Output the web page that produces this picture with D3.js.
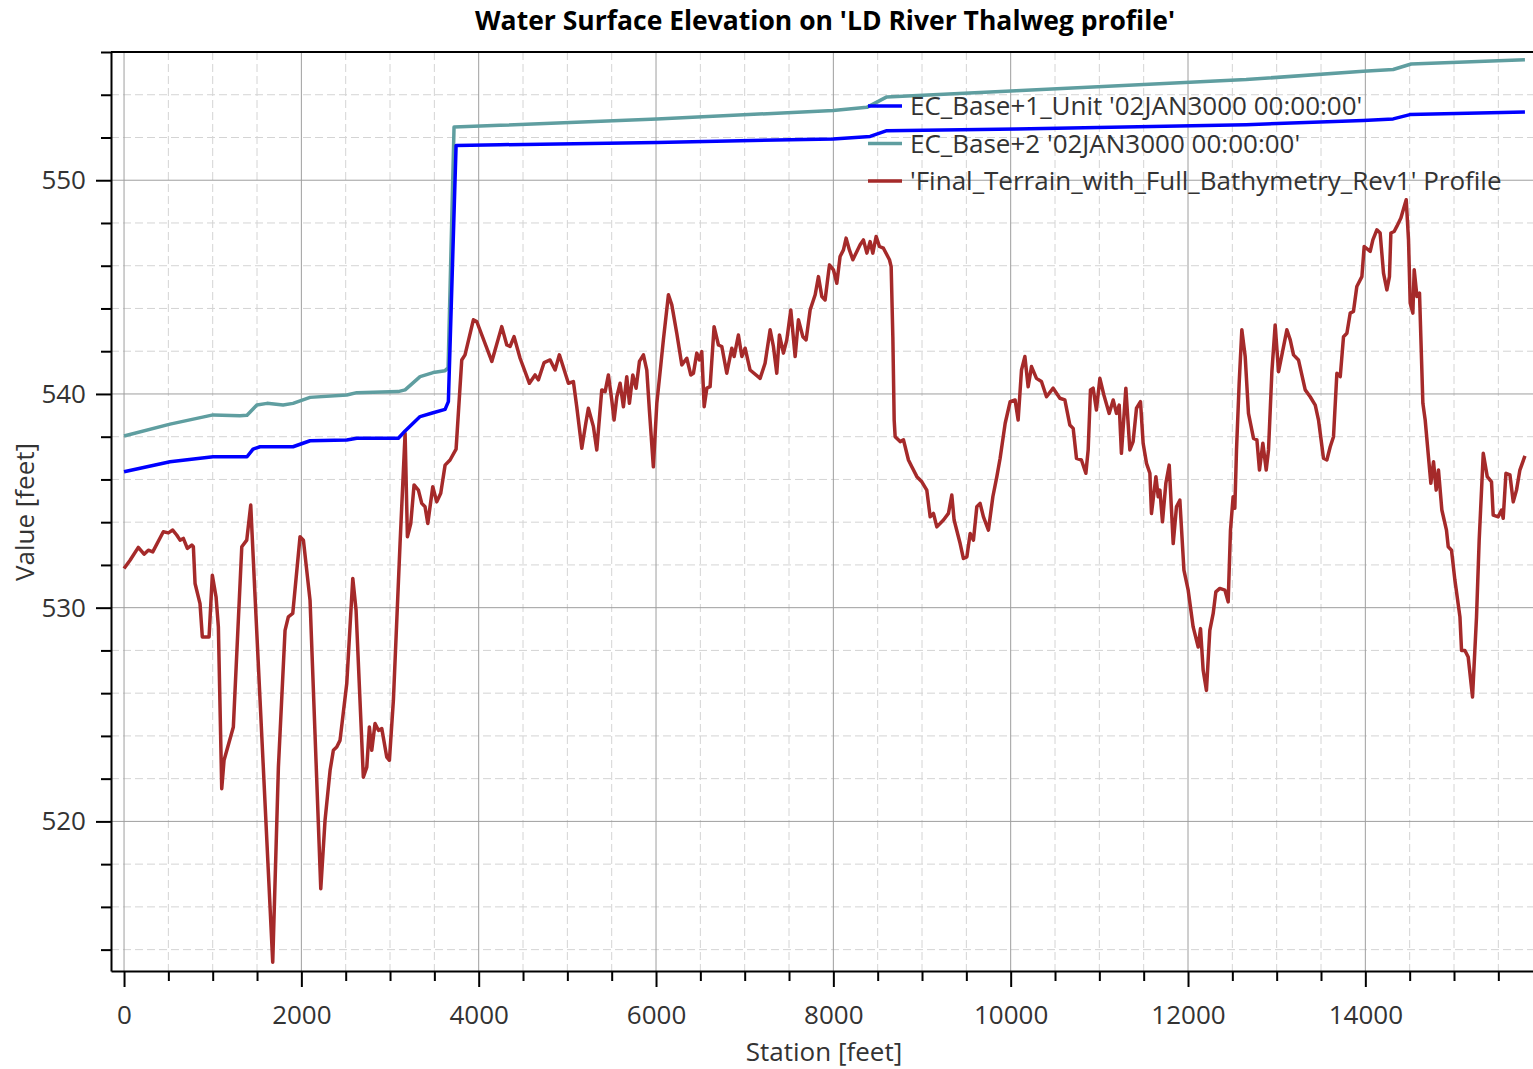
<!DOCTYPE html>
<html>
<head>
<meta charset="utf-8">
<script src="https://cdn.jsdelivr.net/npm/d3@7"></script>
<style>
  body { margin: 0; background: #fff; }
  text { font-family: "Open Sans", "Noto Sans", sans-serif; }
</style>
</head>
<body>
<div id="chart"></div>
<script>
const chartTitle = "Water Surface Elevation on 'LD River Thalweg profile'";
const xTitle = "Station [feet]";
const yTitle = "Value [feet]";

const seriesNames = [
  "EC_Base+1_Unit '02JAN3000 00:00:00'",
  "EC_Base+2 '02JAN3000 00:00:00'",
  "'Final_Terrain_with_Full_Bathymetry_Rev1' Profile"
];
const seriesColors = ["#0000ff", "#5f9ea0", "#a52a2a"];

const xTicks = [0, 2000, 4000, 6000, 8000, 10000, 12000, 14000];
const yTicks = [520, 530, 540, 550];
const xMinorStep = 500;
const yMinorStep = 2;

// [station, elevation]
const base1 = [
  [0, 536.36], [519, 536.83], [1004, 537.06], [1387, 537.06], [1455, 537.42],
  [1534, 537.53], [1906, 537.53], [2098, 537.81], [2512, 537.85], [2625, 537.93],
  [3094, 537.93], [3170, 538.27], [3339, 538.94], [3486, 539.12], [3621, 539.28],
  [3658, 539.64], [3745, 551.62], [4241, 551.66], [6009, 551.77], [7998, 551.93],
  [8415, 552.05], [8603, 552.32], [10070, 552.40], [12656, 552.60], [13976, 552.80],
  [14314, 552.87], [14503, 553.07], [15800, 553.19]
];

const base2 = [
  [0, 538.03], [519, 538.59], [1004, 539.02], [1308, 538.98], [1387, 539.0],
  [1498, 539.48], [1613, 539.56], [1794, 539.48], [1906, 539.56], [2098, 539.84],
  [2512, 539.95], [2625, 540.06], [3091, 540.11], [3170, 540.19], [3339, 540.81],
  [3486, 541.0], [3621, 541.09], [3655, 541.22], [3722, 552.49], [4241, 552.57],
  [6009, 552.87], [7998, 553.26], [8378, 553.41], [8603, 553.90], [10060, 554.19],
  [12656, 554.71], [13976, 555.10], [14314, 555.18], [14517, 555.44], [15800, 555.64]
];

const terrain = [
  [0, 531.83], [68, 532.22], [161, 532.82], [226, 532.50], [274, 532.69], [324, 532.61],
  [443, 533.55], [500, 533.50], [549, 533.63], [594, 533.40], [632, 533.16], [669, 533.24],
  [714, 532.77], [764, 532.93], [782, 532.85], [801, 531.13], [857, 530.19], [883, 528.63],
  [959, 528.63], [996, 531.52], [1038, 530.50], [1064, 529.10], [1102, 521.53], [1128, 522.86],
  [1233, 524.42], [1328, 532.85], [1384, 533.16], [1429, 534.80], [1478, 530.50], [1677, 513.41],
  [1741, 522.54], [1816, 528.94], [1853, 529.57], [1903, 529.73], [1985, 533.32], [2023, 533.16],
  [2098, 530.34], [2219, 516.85], [2267, 520.05], [2324, 522.39], [2361, 523.33], [2399, 523.48],
  [2436, 523.79], [2512, 526.45], [2580, 531.37], [2617, 529.88], [2699, 522.07], [2738, 522.54],
  [2767, 524.42], [2794, 523.33], [2831, 524.58], [2869, 524.26], [2907, 524.34], [2963, 523.01],
  [2993, 522.86], [3038, 525.67], [3113, 533.0], [3170, 538.16], [3196, 533.32], [3234, 533.94],
  [3271, 535.74], [3320, 535.50], [3358, 534.88], [3395, 534.72], [3426, 533.94], [3482, 535.66],
  [3527, 534.95], [3572, 535.35], [3621, 536.67], [3677, 536.91], [3745, 537.42], [3809, 541.59],
  [3846, 541.83], [3940, 543.47], [3978, 543.39], [4148, 541.52], [4260, 543.15], [4317, 542.29],
  [4354, 542.22], [4399, 542.68], [4467, 541.67], [4572, 540.50], [4636, 540.89], [4673, 540.66],
  [4738, 541.47], [4805, 541.59], [4862, 541.12], [4910, 541.83], [5012, 540.50], [5068, 540.58],
  [5106, 539.40], [5163, 537.46], [5208, 538.63], [5237, 539.33], [5294, 538.47], [5332, 537.38],
  [5388, 540.19], [5426, 540.11], [5463, 540.89], [5501, 539.72], [5527, 538.78], [5558, 539.87],
  [5595, 540.50], [5632, 539.40], [5670, 540.81], [5700, 539.56], [5738, 540.89], [5775, 540.27],
  [5813, 541.52], [5858, 541.83], [5896, 541.12], [5925, 539.25], [5970, 536.59], [6009, 539.56],
  [6054, 541.35], [6083, 542.53], [6140, 544.64], [6178, 544.17], [6234, 542.84], [6291, 541.36],
  [6347, 541.67], [6392, 540.89], [6422, 540.97], [6460, 541.91], [6489, 541.59], [6516, 541.98],
  [6543, 539.40], [6573, 540.27], [6610, 540.34], [6655, 543.15], [6704, 542.29], [6742, 542.22],
  [6798, 540.97], [6855, 542.14], [6881, 541.75], [6929, 542.76], [6968, 541.75], [7005, 542.14],
  [7061, 541.12], [7174, 540.73], [7230, 541.44], [7287, 543.00], [7324, 542.22], [7362, 540.97],
  [7392, 542.76], [7437, 541.91], [7475, 542.53], [7520, 543.93], [7569, 541.75], [7606, 543.47],
  [7656, 542.68], [7693, 542.53], [7738, 543.93], [7795, 544.64], [7832, 545.49], [7870, 544.56],
  [7907, 544.40], [7956, 546.04], [8001, 545.81], [8039, 545.18], [8076, 546.43], [8114, 546.74],
  [8144, 547.29], [8181, 546.74], [8220, 546.28], [8265, 546.67], [8302, 546.98], [8339, 547.21],
  [8378, 546.59], [8415, 547.13], [8445, 546.59], [8483, 547.37], [8520, 546.90], [8565, 546.82],
  [8633, 546.28], [8652, 545.96], [8671, 542.68], [8686, 538.78], [8697, 538.0], [8753, 537.77],
  [8791, 537.85], [8847, 536.91], [8885, 536.59], [8942, 536.13], [8998, 535.89], [9054, 535.50],
  [9092, 534.25], [9129, 534.41], [9167, 533.78], [9242, 534.10], [9298, 534.41], [9336, 535.27],
  [9362, 534.10], [9430, 533.0], [9467, 532.30], [9506, 532.38], [9543, 533.47], [9580, 533.16],
  [9618, 534.72], [9655, 534.88], [9693, 534.25], [9749, 533.63], [9799, 535.19], [9844, 536.13],
  [9881, 536.99], [9938, 538.63], [9994, 539.64], [10050, 539.72], [10084, 538.78], [10122, 541.12],
  [10160, 541.75], [10197, 540.34], [10235, 541.28], [10291, 540.73], [10347, 540.58], [10404, 539.87],
  [10479, 540.27], [10555, 539.80], [10611, 539.72], [10667, 538.55], [10705, 538.39], [10742, 536.99],
  [10798, 536.91], [10848, 536.29], [10874, 537.38], [10900, 540.19], [10930, 540.27], [10967, 539.25],
  [11006, 540.73], [11051, 539.95], [11111, 539.09], [11156, 539.72], [11193, 539.09], [11224, 539.48],
  [11249, 537.22], [11299, 540.27], [11344, 537.38], [11381, 537.77], [11419, 539.33], [11464, 539.64],
  [11494, 537.69], [11532, 536.75], [11570, 536.29], [11588, 534.41], [11638, 536.13], [11664, 535.19],
  [11683, 535.50], [11712, 534.02], [11750, 535.82], [11788, 536.67], [11833, 533.00], [11870, 534.72],
  [11908, 535.03], [11954, 531.76], [12002, 530.82], [12058, 529.10], [12115, 528.16], [12141, 529.02],
  [12171, 527.07], [12208, 526.13], [12246, 528.94], [12284, 529.73], [12314, 530.74], [12359, 530.90],
  [12416, 530.82], [12453, 530.27], [12479, 533.63], [12509, 535.19], [12528, 534.65], [12547, 537.38],
  [12577, 540.50], [12607, 543.0], [12645, 541.75], [12682, 539.09], [12739, 537.92], [12777, 537.85],
  [12806, 536.44], [12844, 537.69], [12882, 536.44], [12908, 537.38], [12946, 541.04], [12983, 543.23],
  [13021, 541.04], [13059, 541.83], [13115, 543.0], [13153, 542.53], [13190, 541.83], [13246, 541.59],
  [13322, 540.19], [13378, 539.87], [13435, 539.48], [13472, 538.78], [13528, 536.99], [13566, 536.91],
  [13604, 537.53], [13641, 538.0], [13679, 540.97], [13717, 540.81], [13754, 542.68], [13792, 542.84],
  [13829, 543.78], [13866, 543.86], [13904, 545.03], [13961, 545.49], [13987, 546.90], [14055, 546.67],
  [14085, 547.21], [14130, 547.68], [14167, 547.53], [14205, 545.65], [14243, 544.87], [14272, 545.49],
  [14288, 547.53], [14325, 547.60], [14355, 547.84], [14401, 548.23], [14461, 549.09], [14487, 547.21],
  [14506, 544.25], [14536, 543.78], [14551, 545.81], [14582, 544.56], [14611, 544.72], [14649, 539.56],
  [14675, 538.78], [14712, 537.06], [14739, 535.82], [14769, 536.83], [14799, 535.50], [14825, 536.44],
  [14863, 534.57], [14915, 533.63], [14935, 532.85], [14972, 532.69], [15010, 531.29], [15067, 529.57],
  [15085, 528.0], [15123, 528.0], [15160, 527.69], [15209, 525.82], [15254, 529.57], [15284, 533.16],
  [15330, 537.22], [15375, 536.13], [15423, 535.89], [15442, 534.33], [15499, 534.25], [15536, 534.57],
  [15555, 534.18], [15586, 536.29], [15631, 536.21], [15668, 534.95], [15705, 535.50], [15743, 536.44],
  [15800, 537.10]
];

const width = 1533, height = 1069;
const margin = {top: 52, right: 0, bottom: 98, left: 111};

const svg = d3.select("#chart").append("svg")
  .attr("width", width)
  .attr("height", height);

const x = d3.scaleLinear().domain([-147, 15891]).range([margin.left, width - margin.right]);
const y = d3.scaleLinear().domain([513, 556]).range([height - margin.bottom, margin.top]);

const xMinor = d3.range(0, 15891, xMinorStep).filter(v => !xTicks.includes(v));
const yMinor = d3.range(514, 556.1, yMinorStep).filter(v => !yTicks.includes(v));

// grid
const grid = svg.append("g");
grid.selectAll(".vminor").data(xMinor).join("line")
  .attr("x1", d => x(d)).attr("x2", d => x(d))
  .attr("y1", margin.top).attr("y2", height - margin.bottom)
  .attr("stroke", "#d4d4d4").attr("stroke-dasharray", "8,4");
grid.selectAll(".hminor").data(yMinor).join("line")
  .attr("x1", margin.left).attr("x2", width - margin.right)
  .attr("y1", d => y(d)).attr("y2", d => y(d))
  .attr("stroke", "#d4d4d4").attr("stroke-dasharray", "8,4");
grid.selectAll(".vmajor").data(xTicks).join("line")
  .attr("x1", d => x(d)).attr("x2", d => x(d))
  .attr("y1", margin.top).attr("y2", height - margin.bottom)
  .attr("stroke", "#9e9e9e");
grid.selectAll(".hmajor").data(yTicks).join("line")
  .attr("x1", margin.left).attr("x2", width - margin.right)
  .attr("y1", d => y(d)).attr("y2", d => y(d))
  .attr("stroke", "#9e9e9e");

// lines
const line = d3.line().x(d => x(d[0])).y(d => y(d[1]));
const plot = svg.append("g");
[terrain, base2, base1].forEach((data, i) => {
  plot.append("path")
    .datum(data)
    .attr("fill", "none")
    .attr("stroke", seriesColors[2 - i])
    .attr("stroke-width", 3.5)
    .attr("stroke-linejoin", "round")
    .attr("d", line);
});

// axes
function styleAxis(g) {
  g.selectAll("path, line").attr("stroke", "#000").attr("stroke-width", 2);
  g.selectAll("text").attr("fill", "#333").style("font-size", "26px");
}

svg.append("g")
  .attr("transform", `translate(0,${height - margin.bottom})`)
  .call(d3.axisBottom(x).tickValues(xMinor).tickSize(10).tickSizeOuter(0).tickFormat(""))
  .call(styleAxis);
svg.append("g")
  .attr("transform", `translate(0,${height - margin.bottom})`)
  .call(d3.axisBottom(x).tickValues(xTicks).tickSize(16).tickSizeOuter(0).tickPadding(19).tickFormat(d3.format("d")))
  .call(styleAxis)
  .call(g => g.select(".domain").remove());

svg.append("g")
  .attr("transform", `translate(${margin.left},0)`)
  .call(d3.axisLeft(y).tickValues(yMinor).tickSize(10).tickSizeOuter(0).tickFormat(""))
  .call(styleAxis);
svg.append("g")
  .attr("transform", `translate(${margin.left},0)`)
  .call(d3.axisLeft(y).tickValues(yTicks).tickSize(15).tickSizeOuter(0).tickPadding(10).tickFormat(d3.format("d")))
  .call(styleAxis)
  .call(g => g.select(".domain").remove());

// top border
svg.append("line")
  .attr("x1", margin.left).attr("x2", width)
  .attr("y1", margin.top).attr("y2", margin.top)
  .attr("stroke", "#000").attr("stroke-width", 2);

// titles
svg.append("text")
  .attr("x", 825).attr("y", 30)
  .attr("text-anchor", "middle")
  .style("font-size", "26.5px").style("font-weight", "bold")
  .attr("fill", "#000")
  .text(chartTitle);

svg.append("text")
  .attr("x", 824).attr("y", 1061)
  .attr("text-anchor", "middle")
  .style("font-size", "26px").attr("fill", "#333")
  .text(xTitle);

svg.append("text")
  .attr("transform", `translate(34,512) rotate(-90)`)
  .attr("text-anchor", "middle")
  .style("font-size", "26px").attr("fill", "#333")
  .text(yTitle);

// legend
const legend = svg.append("g").attr("transform", "translate(868,106)");
seriesNames.forEach((name, i) => {
  const row = legend.append("g").attr("transform", `translate(0,${i * 37.5})`);
  row.append("line").attr("x1", 0).attr("x2", 34)
    .attr("stroke", seriesColors[i]).attr("stroke-width", 3.5);
  row.append("text").attr("x", 42).attr("y", 9)
    .style("font-size", "26px").attr("fill", "#333")
    .text(name);
});
</script>
</body>
</html>
